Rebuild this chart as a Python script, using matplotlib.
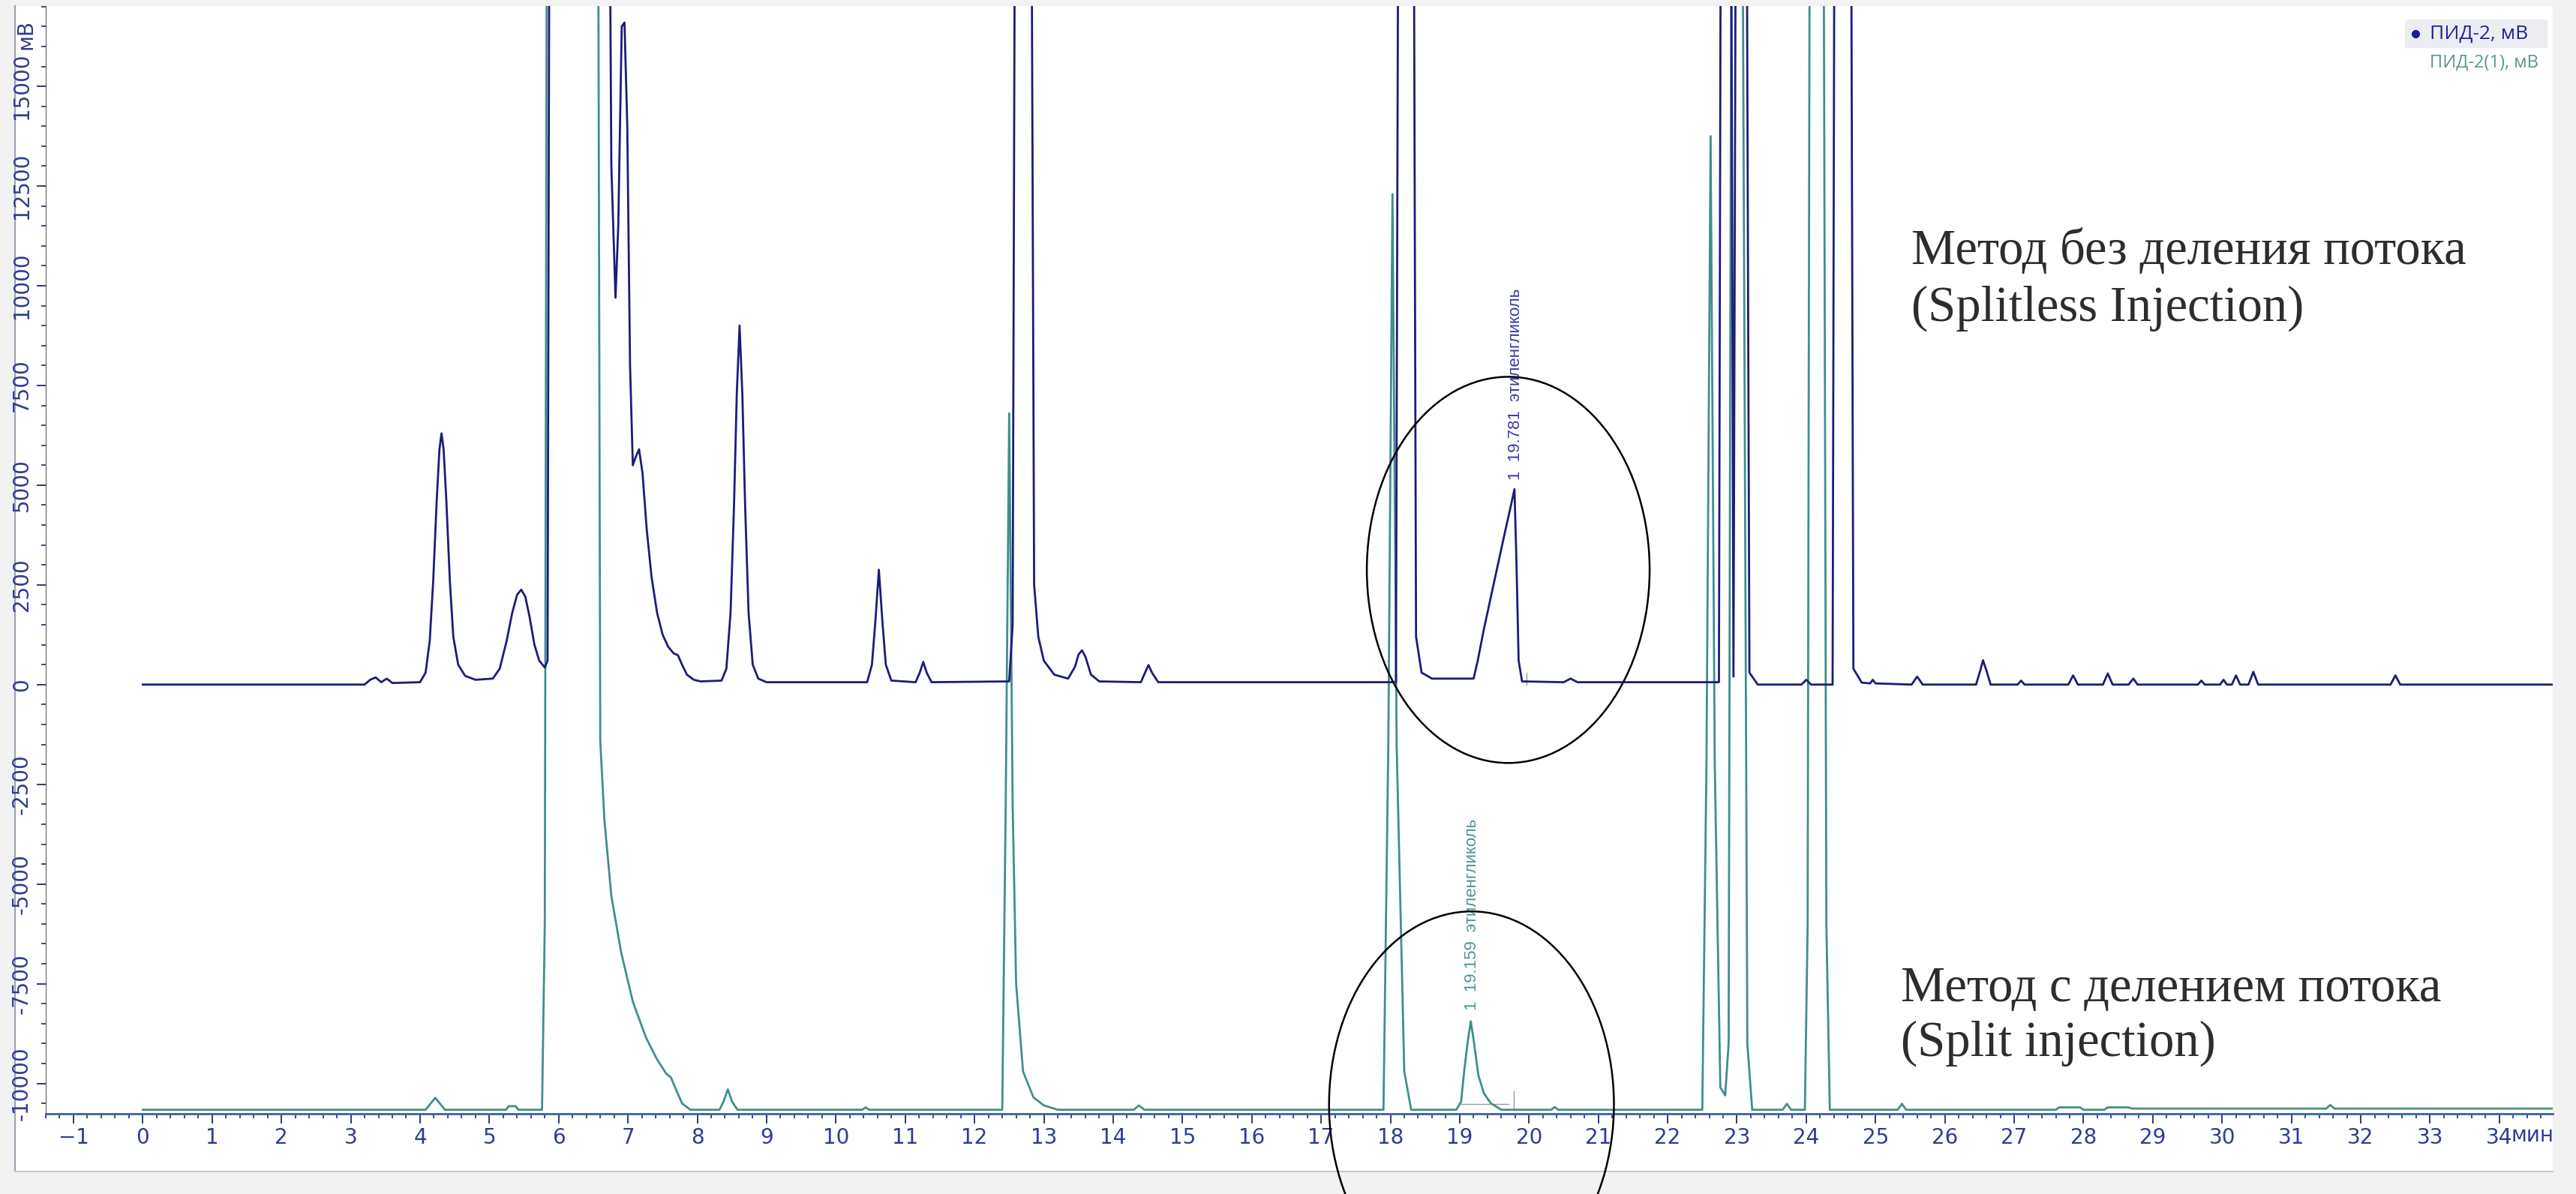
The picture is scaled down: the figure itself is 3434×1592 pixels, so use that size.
import matplotlib
matplotlib.use('Agg')
import matplotlib.pyplot as plt
import matplotlib.transforms as mtransforms
from matplotlib.patches import Ellipse, Rectangle
from matplotlib.lines import Line2D
from matplotlib.ticker import MultipleLocator, FixedLocator, FixedFormatter

pid2_t = [0.00, 3.20, 3.28, 3.36, 3.44, 3.52, 3.60, 4.00, 4.08, 4.14, 4.19, 4.24,
          4.28, 4.31, 4.34, 4.38, 4.43, 4.48, 4.55, 4.65, 4.80, 5.05, 5.15, 5.25,
          5.33, 5.40, 5.46, 5.52, 5.58, 5.65, 5.72, 5.80, 5.84, 5.88, 6.70, 6.76,
          6.82, 6.86, 6.91, 6.95, 6.99, 7.03, 7.07, 7.11, 7.16, 7.21, 7.27, 7.34,
          7.42, 7.50, 7.58, 7.66, 7.72, 7.78, 7.85, 7.95, 8.05, 8.35, 8.42, 8.48,
          8.53, 8.57, 8.61, 8.65, 8.69, 8.74, 8.80, 8.88, 9.00, 10.45, 10.52, 10.57,
          10.62, 10.67, 10.72, 10.80, 11.15, 11.21, 11.26, 11.31, 11.38, 12.50,
          12.55, 12.60, 12.80, 12.86, 12.92, 13.00, 13.15, 13.35, 13.45, 13.50,
          13.55, 13.60, 13.68, 13.80, 14.40, 14.46, 14.51, 14.56, 14.65, 18.08,
          18.13, 18.32, 18.37, 18.45, 18.60, 19.20, 19.26, 19.35, 19.45, 19.55,
          19.65, 19.74, 19.79, 19.82, 19.85, 19.90, 20.50, 20.60, 20.70, 22.74,
          22.78, 22.90, 22.95, 23.00, 23.12, 23.18, 23.30, 23.93, 24.00, 24.07,
          24.38, 24.42, 24.63, 24.68, 24.80, 24.92, 24.96, 25.00, 25.52, 25.60,
          25.68, 26.45, 26.51, 26.55, 26.60, 26.66, 27.05, 27.10, 27.15, 27.78,
          27.85, 27.92, 28.28, 28.35, 28.42, 28.65, 28.72, 28.78, 29.65, 29.70,
          29.75, 29.97, 30.02, 30.07, 30.14, 30.20, 30.26, 30.38, 30.45, 30.52,
          32.43, 32.50, 32.57, 34.77]
pid2_v = [0, 0, 120, 180, 60, 150, 40, 60, 300, 1100, 2600, 4600,
          5900, 6300, 5900, 4600, 2600, 1200, 500, 220, 120, 150, 400, 1100,
          1800, 2250, 2380, 2200, 1700, 1000, 600, 430, 600, 30000, 30000, 13000,
          9700, 11500, 16500, 16600, 14000, 8000, 5500, 5700, 5900, 5300, 3900, 2700,
          1800, 1250, 950, 780, 740, 500, 250, 120, 80, 100, 400, 1800,
          4500, 7300, 9000, 7300, 4500, 1800, 500, 150, 60, 60, 500, 1600,
          2880, 1600, 500, 100, 60, 300, 570, 300, 60, 80,
          1500, 30000, 30000, 2500, 1200, 600, 250, 150, 450, 750,
          860, 700, 250, 80, 60, 300, 490, 300, 60, 60,
          30000, 30000, 1200, 300, 150, 150, 600, 1400, 2200, 3000,
          3800, 4500, 4900, 3000, 600, 80, 60, 150, 60, 60,
          30000, 30000, 200, 30000, 30000, 300, 0, 0, 120, 0,
          0, 30000, 30000, 400, 50, 30, 120, 30, 0, 200,
          0, 0, 350, 610, 350, 0, 0, 100, 0, 0,
          230, 0, 0, 280, 0, 0, 150, 0, 0, 100,
          0, 0, 120, 0, 0, 230, 0, 0, 320, 0,
          0, 230, 0, 0]

# ПИД-2(1), мВ (зелёная линия)
pid21_t = [0.00, 4.08, 4.15, 4.22, 4.29, 4.36, 5.24, 5.28, 5.38, 5.42, 5.76,
           5.80, 5.83, 6.57, 6.60, 6.66, 6.76, 6.90, 7.07, 7.26, 7.42, 7.55,
           7.62, 7.68, 7.78, 7.90, 8.32, 8.38, 8.44, 8.50, 8.58, 10.38, 10.43,
           10.48, 12.40, 12.45, 12.50, 12.55, 12.60, 12.70, 12.85, 13.00, 13.20,
           14.30, 14.37, 14.45, 17.90, 17.97, 18.03, 18.09, 18.20, 18.30, 18.95,
           19.02, 19.07, 19.12, 19.16, 19.20, 19.27, 19.35, 19.45, 19.60, 20.32,
           20.37, 20.42, 22.50, 22.56, 22.62, 22.68, 22.76, 22.83, 22.88, 22.92,
           23.08, 23.15, 23.22, 23.66, 23.72, 23.78, 23.98, 24.02, 24.05, 24.25,
           24.29, 24.34, 25.32, 25.38, 25.44, 27.60, 27.65, 27.95, 28.00, 28.30,
           28.35, 28.65, 28.70, 31.50, 31.56, 31.62, 34.77]
pid21_v = [-10660, -10660, -10510, -10360, -10510, -10660, -10660, -10570, -10570,
           -10660, -10660, -6000, 20000, 20000, -1400, -3400, -5300, -6700, -7950,
           -8850, -9400, -9750, -9850, -10100, -10500, -10660, -10660, -10450,
           -10150, -10450, -10660, -10660, -10600, -10660, -10660, -3000, 6800,
           -3000, -7500, -9700, -10350, -10550, -10660, -10660, -10550, -10660,
           -10660, -1500, 12300, -1500, -9700, -10660, -10660, -10460, -9600,
           -8900, -8440, -8900, -9800, -10250, -10500, -10660, -10660, -10590,
           -10660, -10660, -2000, 13750, -2000, -10100, -10300, -9000, 20000,
           20000, -9000, -10660, -10660, -10510, -10660, -10660, -6000, 20000,
           20000, -6000, -10660, -10660, -10510, -10660, -10660, -10600, -10600,
           -10660, -10660, -10600, -10600, -10630, -10630, -10540, -10630, -10630]

y_ticks = [-10000, -7500, -5000, -2500, 0, 2500, 5000, 7500, 10000, 12500, 15000]
x_ticks = list(range(-1, 35))

W, H = 3434, 1592


def px(X, Y):
    # пиксели картинки -> доли фигуры
    return X / W, 1 - Y / H


fig = plt.figure(figsize=(W / 100, H / 100), dpi=100, facecolor='#f2f2f2')
fig.add_artist(Rectangle(px(20, 1562), (3403 - 20) / W, (1562 - 8) / H,
                         transform=fig.transFigure, facecolor='white',
                         edgecolor='none', zorder=-10))
fig.add_artist(Line2D([20 / W, 20 / W], [1 - 1562 / H, 1 - 8 / H],
                      transform=fig.transFigure, color='#9da0b0', lw=1.5, zorder=-5))
fig.add_artist(Line2D([20 / W, 3403 / W], [1 - 1562 / H, 1 - 1562 / H],
                      transform=fig.transFigure, color='#c8c8d0', lw=1.5, zorder=-5))

ax = fig.add_axes([61 / W, 1 - 1485 / H, (3403 - 61) / W, (1485 - 8) / H])
ax.set_facecolor('white')
ax.set_xlim(-1.40, 34.77)
ax.set_ylim(-10760, 17014)

blue = '#1c1c7a'
green = '#3f8f8c'
ax.plot(pid21_t, pid21_v, color=green, lw=2.0, zorder=3)
ax.plot(pid2_t, pid2_v, color=blue, lw=2.0, zorder=4)

# метки интегрирования
ax.plot([19.96, 19.96], [0, 300], color='#9a9a9a', lw=1.0, zorder=2)
ax.plot([19.0, 19.7], [-10520, -10520], color='#9a9a9a', lw=1.0, zorder=2)
ax.plot([19.78, 19.78], [-10660, -10200], color='#9a9a9a', lw=1.0, zorder=2)

for s in ['top', 'right']:
    ax.spines[s].set_visible(False)
ax.spines['left'].set_color('#606060')
ax.spines['bottom'].set_color('#3a5fb0')
ax.spines['bottom'].set_linewidth(2)

ax.xaxis.set_major_locator(FixedLocator(x_ticks))
ax.xaxis.set_minor_locator(MultipleLocator(0.2))
ax.yaxis.set_major_locator(FixedLocator(y_ticks))
ax.yaxis.set_major_formatter(FixedFormatter([str(v) for v in y_ticks]))
ax.yaxis.set_minor_locator(MultipleLocator(500))

tick_font = ['Liberation Sans Narrow', 'DejaVu Sans']
tick_col = '#2f3c96'
ax.tick_params(which='major', direction='out', length=9, width=1.3, color='#1f2a6f',
               labelsize=20, labelcolor=tick_col, pad=4)
ax.tick_params(which='minor', direction='out', length=4.5, width=1.2, color='#1f2a6f')
for lab in ax.get_xticklabels():
    lab.set_family(tick_font)
for lab in ax.get_yticklabels():
    lab.set_family(tick_font)
    lab.set_rotation(90)
    lab.set_va('center')

tr_y = mtransforms.blended_transform_factory(ax.transAxes, ax.transData)
ax.text(-0.0078, 16300, 'мВ', transform=tr_y, rotation=90, ha='center', va='center',
        fontsize=20, color=tick_col, family=tick_font)
tr_x = mtransforms.blended_transform_factory(ax.transData, ax.transAxes)
ax.text(34.48, -0.0196, 'мин', transform=tr_x, ha='center', va='center',
        fontsize=20, color=tick_col, family=tick_font)

# легенда
fig.add_artist(Rectangle(px(3206, 64), 190 / W, 38 / H, transform=fig.transFigure,
                         facecolor='#ececf3', edgecolor='none', zorder=5))
fig.add_artist(Line2D([3220 / W], [1 - 45 / H], transform=fig.transFigure,
                      marker='o', markersize=7, color='#1a1aa0', zorder=6))
fig.text(*px(3239, 45), 'ПИД-2, мВ', ha='left', va='center', fontsize=19,
         color='#24249a', family='Open Sans', zorder=6)
fig.text(*px(3239, 84), 'ПИД-2(1), мВ', ha='left', va='center', fontsize=17,
         color='#5b9690', family='Open Sans', zorder=6)

# подписи пиков
ax.text(19.81, 5132, '1  19.781  этиленгликоль', rotation=90, ha='center', va='bottom',
        fontsize=16, color='#3a3aa5', family='Liberation Sans', zorder=6)
ax.text(19.18, -8159, '1  19.159  этиленгликоль', rotation=90, ha='center', va='bottom',
        fontsize=16, color='#4e9494', family='Liberation Sans', zorder=6)

# овалы
ax.add_patch(Ellipse((19.70, 2876), 4.08, 9682, fill=False, edgecolor='black',
                     lw=1.8, clip_on=False, zorder=7))
ax.add_patch(Ellipse((19.17, -10528), 4.11, 9682, fill=False, edgecolor='black',
                     lw=1.8, clip_on=False, zorder=7))

# надписи
ax.text(25.52, 10150, 'Метод без деления потока\n(Splitless Injection)', ha='left',
        va='center', fontsize=48, color='#2d2d2d', family='Liberation Serif',
        linespacing=1.3, zorder=6)
ax.text(25.37, -8320, 'Метод с делением потока\n(Split injection)', ha='left',
        va='center', fontsize=48, color='#2d2d2d', family='Liberation Serif',
        linespacing=1.25, zorder=6)

fig.savefig('out.png', dpi=100, facecolor=fig.get_facecolor())
